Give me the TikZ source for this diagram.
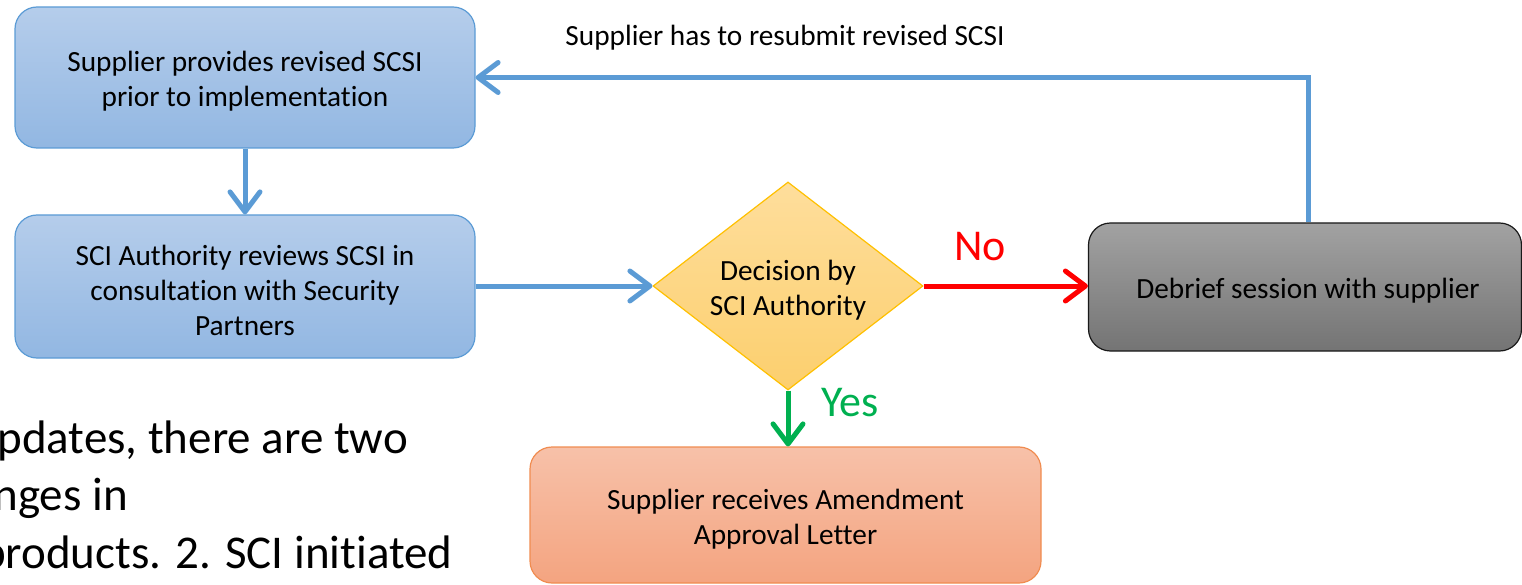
\documentclass[tikz,border=0pt]{standalone}
\usepackage{fontspec}
\setmainfont{Carlito}[Ligatures=NoCommon]
\usetikzlibrary{shapes.geometric,arrows.meta}
\definecolor{blueT}{RGB}{181,205,235}
\definecolor{blueB}{RGB}{146,183,226}
\definecolor{blueLine}{RGB}{91,155,213}
\definecolor{yelT}{RGB}{254,222,156}
\definecolor{yelB}{RGB}{252,207,110}
\definecolor{yelLine}{RGB}{255,192,0}
\definecolor{grayT}{RGB}{162,162,162}
\definecolor{grayB}{RGB}{116,116,116}
\definecolor{grayLine}{RGB}{25,25,25}
\definecolor{salT}{RGB}{247,193,169}
\definecolor{salB}{RGB}{244,164,128}
\definecolor{salLine}{RGB}{240,140,80}
\definecolor{noRed}{RGB}{255,0,0}
\definecolor{yesGreen}{RGB}{0,176,80}
\tikzset{
  boxtext/.style={font=\fontsize{29.3}{35}\selectfont, align=center, inner sep=0pt},
  procbox/.style={rectangle, rounded corners=22pt, line width=1.2pt, inner sep=0pt},
  bluebox/.style={procbox, draw=blueLine, top color=blueT, bottom color=blueB},
  graybox/.style={procbox, draw=grayLine, top color=grayT, bottom color=grayB},
  salbox/.style={procbox, draw=salLine, top color=salT, bottom color=salB},
  decbox/.style={diamond, draw=yelLine, line width=1.2pt, top color=yelT, bottom color=yelB, inner sep=0pt, aspect=1.3},
  flow/.style={line width=5pt, -{Straight Barb[length=20pt,width=30pt,round]}},
  bigtext/.style={font=\fontsize{44}{55}\selectfont},
  sidetext/.style={font=\fontsize{47}{57}\selectfont, anchor=base east, inner sep=0pt},
}
\begin{document}
\begin{tikzpicture}[x=1pt,y=-1pt]
\useasboundingbox (0,0) rectangle (1522,585);
\clip (0,0) rectangle (1522,585);
\node[bluebox, minimum width=460pt, minimum height=141pt] (b1) at (245,77.5) {};
\node[bluebox, minimum width=460pt, minimum height=143pt] (b2) at (245,286.5) {};
\node[decbox, minimum width=270pt, minimum height=208pt] (d) at (788,286) {};
\node[graybox, minimum width=433pt, minimum height=128pt] (deb) at (1305,287) {};
\node[salbox, minimum width=511pt, minimum height=136pt] (app) at (785.5,515) {};

\node[boxtext] (b1t) at ([yshift=-4pt]b1.center) {Supplier provides revised SCSI\\prior to implementation};
\node[boxtext] (b2t) at ([yshift=-4pt]b2.center) {SCI Authority reviews SCSI in\\consultation with Security\\Partners};
\node[boxtext] (dt) at ([yshift=-4pt]d.center) {Decision by\\SCI Authority};
\node[boxtext] (debt) at ([yshift=-4pt, xshift=3pt]deb.center) {Debrief session with supplier};
\node[boxtext] (appt) at ([yshift=-4pt]app.center) {Supplier receives Amendment\\Approval Letter};

\draw[flow, draw=blueLine] (b1.south) -- (b2.north);
\draw[flow, draw=blueLine] (b2.east |- d.west) -- (d.west);
\draw[flow, draw=noRed] (d.east) -- (deb.west |- d.east);
\draw[flow, draw=yesGreen] (d.south) -- (app.north -| d.south);
\draw[flow, draw=blueLine, line cap=butt] ([xshift=3pt]deb.north) |- (b1.east);

\node[boxtext] (lbl) at (785,38) {Supplier has to resubmit revised SCSI};
\node[bigtext, text=noRed] (no) at (980,247) {No};
\node[bigtext, text=yesGreen] (yes) at (850,403) {Yes};

\node[sidetext] (t1) at (408,453) {pdates, there are two};
\node[sidetext] (t2) at (128,510) {nges in};
\node[sidetext] (t3) at (453,568) {products. 2. SCI initiated};
\end{tikzpicture}
\end{document}
